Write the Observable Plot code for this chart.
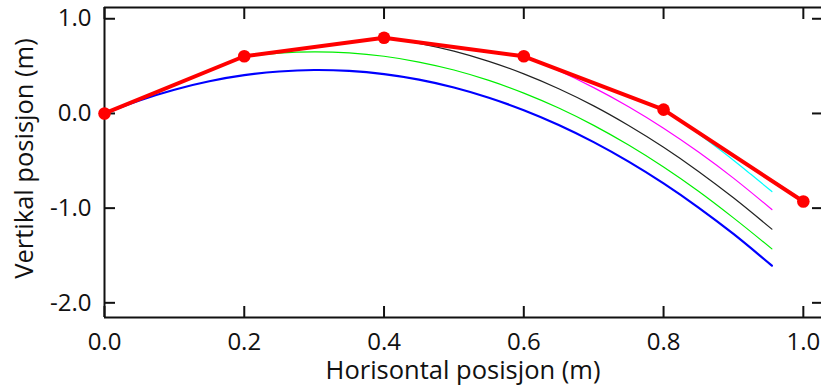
<!DOCTYPE html>
<html><head><meta charset="utf-8">
<script src="https://cdn.jsdelivr.net/npm/d3@7"></script>
<script src="https://cdn.jsdelivr.net/npm/@observablehq/plot@0.6"></script>
<style>body{margin:0;background:#fff}</style>
</head><body><div id="chart"></div>
<script>
// measured positions (red, with markers)
const pointX = [0, 0.2, 0.4, 0.6, 0.8, 1.0];
const pointY = [0, 0.604, 0.80, 0.604, 0.04, -0.93];

// trajectories
const blueX = [0, 0.05, 0.1, 0.15, 0.2, 0.25, 0.3, 0.35, 0.4, 0.45, 0.5, 0.55, 0.6, 0.65, 0.7, 0.75, 0.8, 0.85, 0.9, 0.955];
const blueY = [0, 0.138, 0.251, 0.340, 0.404, 0.443, 0.459, 0.449, 0.415, 0.357, 0.274, 0.166, 0.034, -0.122, -0.303, -0.509, -0.739, -0.994, -1.273, -1.608];
const greenX = [0.2, 0.25, 0.3, 0.35, 0.4, 0.45, 0.5, 0.55, 0.6, 0.65, 0.7, 0.75, 0.8, 0.85, 0.9, 0.955];
const greenY = [0.6, 0.638, 0.651, 0.640, 0.604, 0.543, 0.459, 0.349, 0.215, 0.057, -0.126, -0.334, -0.566, -0.822, -1.103, -1.43];
const blackX = [0.4, 0.45, 0.5, 0.55, 0.6, 0.65, 0.7, 0.75, 0.8, 0.85, 0.9, 0.955];
const blackY = [0.8, 0.741, 0.658, 0.550, 0.418, 0.261, 0.080, -0.127, -0.357, -0.612, -0.891, -1.222];
const magentaX = [0.6, 0.65, 0.7, 0.75, 0.8, 0.85, 0.9, 0.955];
const magentaY = [0.604, 0.451, 0.273, 0.071, -0.156, -0.408, -0.683, -1.015];
const cyanX = [0.8, 0.825, 0.85, 0.875, 0.9, 0.925, 0.955];
const cyanY = [0.04, -0.084, -0.215, -0.352, -0.494, -0.643, -0.825];

const xTicks = [0, 0.2, 0.4, 0.6, 0.8, 1.0];
const yTicks = [1.0, 0.0, -1.0, -2.0];
const xDomain = [0, 1.026];
const yDomain = [-2.155, 1.119];

const xLabel = "Horisontal posisjon (m)";
const yLabel = "Vertikal posisjon (m)";

const zip = (xs, ys) => xs.map((x, i) => ({x, y: ys[i]}));

const W = 821, H = 392;
const mL = 104, mR = 0, mT = 7, mB = 75;
const pw = W - mL - mR, ph = H - mT - mB;
const FONT = "Open Sans, sans-serif";
const fmt = d => d.toFixed(1);

const line = (xs, ys, color, sw) =>
  Plot.line(zip(xs, ys), {x: "x", y: "y", stroke: color, strokeWidth: sw, curve: "catmull-rom"});

const chart = Plot.plot({
  width: W, height: H,
  marginLeft: mL, marginRight: mR, marginTop: mT, marginBottom: mB,
  style: {fontFamily: FONT, color: "#111", background: "#fff"},
  x: {domain: xDomain},
  y: {domain: yDomain},
  marks: [
    Plot.axisX(xTicks, {tickSize: 0, tickPadding: 15, tickFormat: fmt, fontSize: 24, label: null, fill: "#111"}),
    Plot.axisY(yTicks, {tickSize: 0, tickPadding: 13, tickFormat: fmt, fontSize: 24, label: null, fill: "#111"}),
    line(cyanX, cyanY, "#00ffff", 1.2),
    line(magentaX, magentaY, "#ff00ff", 1.2),
    line(blackX, blackY, "#222222", 1.2),
    line(greenX, greenY, "#00ee00", 1.2),
    line(blueX, blueY, "#0000ff", 2.2),
    // frame
    Plot.ruleX([xDomain[0]], {stroke: "#111", strokeWidth: 2}),
    Plot.ruleY([yDomain[0]], {stroke: "#111", strokeWidth: 2}),
    Plot.ruleY([yDomain[1]], {stroke: "#111", strokeWidth: 2}),
    // inward ticks
    Plot.tickX(xTicks, {x: d => d, insetTop: ph - 11, stroke: "#111", strokeWidth: 2}),
    Plot.tickX(xTicks, {x: d => d, insetBottom: ph - 12, stroke: "#111", strokeWidth: 2}),
    Plot.tickY(yTicks, {y: d => d, insetRight: pw - 11, stroke: "#111", strokeWidth: 2}),
    Plot.tickY(yTicks, {y: d => d, insetLeft: pw - 9, stroke: "#111", strokeWidth: 2}),
    // red measurements
    Plot.line(zip(pointX, pointY), {x: "x", y: "y", stroke: "#ff0000", strokeWidth: 4}),
    Plot.dot(zip(pointX, pointY), {x: "x", y: "y", fill: "#ff0000", r: 6.3}),
    // axis titles
    Plot.text([xLabel], {frameAnchor: "bottom", textAnchor: "middle", dy: 61, fontSize: 25.5, fill: "#111"}),
    Plot.text([yLabel], {frameAnchor: "left", textAnchor: "middle", rotate: -90, dx: -80, dy: -4, fontSize: 25.5, fill: "#111"})
  ]
});
document.getElementById("chart").appendChild(chart);
</script>
</body></html>
